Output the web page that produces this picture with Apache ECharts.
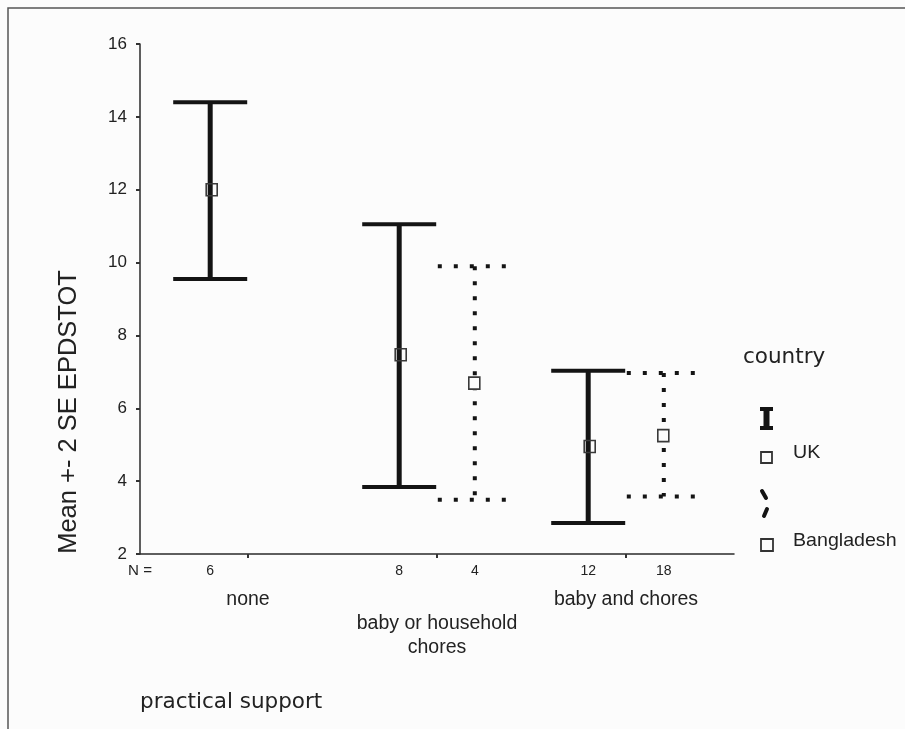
<!DOCTYPE html>
<html>
<head>
<meta charset="utf-8">
<script src="https://cdn.jsdelivr.net/npm/echarts/dist/echarts.min.js"></script>
<style>
html,body{margin:0;padding:0;background:#fcfcfc;}
#chart{width:905px;height:729px;}
</style>
</head>
<body>
<div id="chart"></div>
<script>
// ---- data ----
const categories = ['none', 'baby or household\nchores', 'baby and chores'];
const yTicks = { min: 2, max: 16, interval: 2 };

// UK groups (category index 0,1,2)
const ukCats = [0, 1, 2];
const ukLow  = [9.55, 3.84, 2.85];
const ukMean = [12.0, 7.47, 4.95];
const ukHigh = [14.40, 11.05, 7.03];
const ukN    = [6, 8, 12];

// Bangladesh groups (category index 1,2)
const bdCats = [1, 2];
const bdLow  = [3.49, 3.58];
const bdMean = [6.69, 5.25];
const bdHigh = [9.90, 6.97];
const bdN    = [4, 18];

const FONT = 'Liberation Sans, Arial, sans-serif';
const WIDE = 'DejaVu Sans, sans-serif';
const INK = '#141414';
const OFFSET = 0.2; // country offset within a category group

function buildData(cats, low, mean, high, n, off) {
  return cats.map((c, i) => [c + 1 + off, low[i], mean[i], high[i], n[i]]);
}

function makeRender(dotted) {
  return function (params, api) {
    const x = api.value(0), lo = api.value(1), m = api.value(2), hi = api.value(3), n = api.value(4);
    const pHi = api.coord([x, hi]);
    const pLo = api.coord([x, lo]);
    const pM = api.coord([x, m]);
    const pBase = api.coord([x, yTicks.min]);
    const hw = 37;
    const vStyle = dotted
      ? { stroke: INK, lineWidth: 4, lineDash: [4, 11], lineCap: 'butt' }
      : { stroke: INK, lineWidth: 5 };
    const cStyle = dotted
      ? { stroke: INK, lineWidth: 4, lineDash: [4, 12], lineCap: 'butt' }
      : { stroke: INK, lineWidth: 4 };
    return {
      type: 'group',
      children: [
        { type: 'line', shape: { x1: pHi[0], y1: pHi[1], x2: pLo[0], y2: pLo[1] }, style: vStyle },
        { type: 'line', shape: { x1: pHi[0] - hw, y1: pHi[1], x2: pHi[0] + hw, y2: pHi[1] }, style: cStyle },
        { type: 'line', shape: { x1: pLo[0] - hw, y1: pLo[1], x2: pLo[0] + hw, y2: pLo[1] }, style: cStyle },
        { type: 'rect', shape: { x: pM[0] - (dotted ? 6 : 4), y: pM[1] - 6, width: 11, height: 12 },
          style: { fill: dotted ? '#fcfcfc' : 'none', stroke: '#3a3a3a', lineWidth: 1.6 } },
        { type: 'text', x: pBase[0], y: pBase[1] + 17,
          style: { text: String(n), fontSize: 14, fontFamily: FONT, fill: '#222',
                   align: 'center', verticalAlign: 'middle', textAlign: 'center', textVerticalAlign: 'middle' } }
      ]
    };
  };
}

const chart = echarts.init(document.getElementById('chart'), null, { renderer: 'canvas' });

function txt(text, x, y, size, opts) {
  opts = opts || {};
  const fam = opts.family || FONT;
  return {
    type: 'text', x: x, y: y, scaleX: opts.scaleX || 1, rotation: opts.rotation || 0,
    style: { text: text, fontSize: size, fontFamily: fam, fill: '#222',
             align: opts.align || 'left', verticalAlign: 'middle',
             textAlign: opts.align || 'left', textVerticalAlign: 'middle' }
  };
}

chart.setOption({
  backgroundColor: '#fcfcfc',
  animation: false,
  grid: { left: 140, right: 171, top: 44, bottom: 175, containLabel: false },
  xAxis: {
    type: 'value',
    min: 0.4286,
    max: 3.5714,
    splitLine: { show: false },
    axisLine: { show: true, onZero: false, lineStyle: { color: '#2a2a2a', width: 1.5 } },
    axisTick: { show: true, customValues: [1, 2, 3], length: 4, lineStyle: { color: '#333', width: 2 } },
    axisLabel: {
      show: true,
      customValues: [1, 2, 3],
      margin: 34,
      fontSize: 19.5,
      fontFamily: FONT,
      color: '#222',
      lineHeight: 24,
      verticalAlign: 'top',
      formatter: function (v) {
        const i = Math.round(v) - 1;
        return (i % 2 === 1 ? '\n' : '') + categories[i];
      }
    }
  },
  yAxis: {
    type: 'value',
    min: yTicks.min,
    max: yTicks.max,
    interval: yTicks.interval,
    splitLine: { show: false },
    axisLine: { show: true, lineStyle: { color: '#2a2a2a', width: 1.5 } },
    axisTick: { show: true, length: 4, lineStyle: { color: '#333', width: 2 } },
    axisLabel: { margin: 13, fontSize: 17, fontFamily: FONT, color: '#222' }
  },
  series: [
    {
      name: 'UK', type: 'custom', renderItem: makeRender(false),
      data: buildData(ukCats, ukLow, ukMean, ukHigh, ukN, -OFFSET),
      encode: { x: 0, y: [1, 2, 3] }, z: 3
    },
    {
      name: 'Bangladesh', type: 'custom', renderItem: makeRender(true),
      data: buildData(bdCats, bdLow, bdMean, bdHigh, bdN, OFFSET),
      encode: { x: 0, y: [1, 2, 3] }, z: 3
    }
  ],
  graphic: [
    { type: 'polyline', shape: { points: [[8, 729], [8, 8], [905, 8]] },
      style: { stroke: '#555', lineWidth: 1.5, fill: 'none' } },
    txt('Mean +- 2 SE EPDSTOT', 69, 412, 25.5, { align: 'center', rotation: Math.PI / 2 }),
    txt('N =', 140, 571, 14, { align: 'center', scaleX: 1.08 }),
    txt('practical support', 140, 702, 21.5, { family: WIDE }),
    txt('country', 743, 357, 21.5, { family: WIDE }),
    // legend: UK
    { type: 'rect', shape: { x: 760, y: 407, width: 13, height: 4 }, style: { fill: INK } },
    { type: 'rect', shape: { x: 763.5, y: 407, width: 6, height: 23 }, style: { fill: INK } },
    { type: 'rect', shape: { x: 760, y: 426, width: 13, height: 4 }, style: { fill: INK } },
    { type: 'rect', shape: { x: 761, y: 452, width: 11, height: 11 }, style: { fill: 'none', stroke: '#333', lineWidth: 1.8 } },
    txt('UK', 793, 453, 18.5, { scaleX: 1.06 }),
    // legend: Bangladesh
    { type: 'line', shape: { x1: 762, y1: 491, x2: 766, y2: 498 }, style: { stroke: INK, lineWidth: 4, lineCap: 'round' } },
    { type: 'line', shape: { x1: 767, y1: 509, x2: 764, y2: 516 }, style: { stroke: INK, lineWidth: 4, lineCap: 'round' } },
    { type: 'rect', shape: { x: 761, y: 539, width: 12, height: 12 }, style: { fill: 'none', stroke: '#333', lineWidth: 1.8 } },
    txt('Bangladesh', 793, 541, 18.5, { scaleX: 1.06 })
  ]
});
</script>
</body>
</html>
